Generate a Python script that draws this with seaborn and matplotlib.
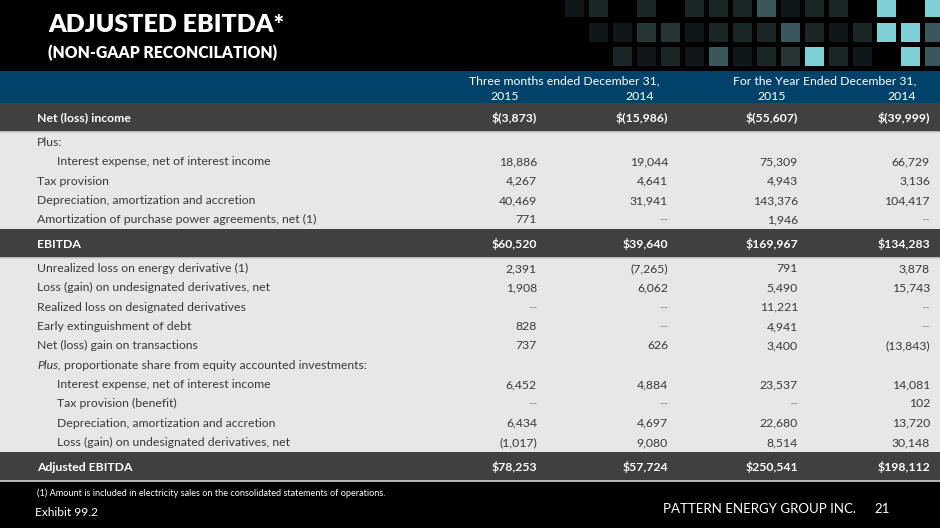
import pandas as pd
import seaborn as sns
import matplotlib.pyplot as plt
from matplotlib.patches import Rectangle

# table content
row_labels = [
    "Net (loss) income",
    "Plus:",
    "Interest expense, net of interest income",
    "Tax provision",
    "Depreciation, amortization and accretion",
    "Amortization of purchase power agreements, net (1)",
    "EBITDA",
    "Unrealized loss on energy derivative (1)",
    "Loss (gain) on undesignated derivatives, net",
    "Realized loss on designated derivatives",
    "Early extinguishment of debt",
    "Net (loss) gain on transactions",
    "proportionate share from equity accounted investments:",
    "Interest expense, net of interest income",
    "Tax provision (benefit)",
    "Depreciation, amortization and accretion",
    "Loss (gain) on undesignated derivatives, net",
    "Adjusted EBITDA",
]
row_kind = ["total", "plain", "indent", "plain", "plain", "plain", "total",
            "plain", "plain", "plain", "plain", "plain", "italic_plus",
            "indent", "indent", "indent", "indent", "total"]

q4_2015 = ["$(3,873)", "", "18,886", "4,267", "40,469", "771", "$60,520",
           "2,391", "1,908", "--", "828", "737", "",
           "6,452", "--", "6,434", "(1,017)", "$78,253"]
q4_2014 = ["$(15,986)", "", "19,044", "4,641", "31,941", "--", "$39,640",
           "(7,265)", "6,062", "--", "--", "626", "",
           "4,884", "--", "4,697", "9,080", "$57,724"]
fy_2015 = ["$(55,607)", "", "75,309", "4,943", "143,376", "1,946", "$169,967",
           "791", "5,490", "11,221", "4,941", "3,400", "",
           "23,537", "--", "22,680", "8,514", "$250,541"]
fy_2014 = ["$(39,999)", "", "66,729", "3,136", "104,417", "--", "$134,283",
           "3,878", "15,743", "--", "--", "(13,843)", "",
           "14,081", "102", "13,720", "30,148", "$198,112"]

period_headers = ["Three months ended December 31,", "For the Year Ended December 31,"]
year_headers = ["2015", "2014", "2015", "2014"]

table = pd.DataFrame({"label": row_labels, "kind": row_kind,
                      "q4_2015": q4_2015, "q4_2014": q4_2014,
                      "fy_2015": fy_2015, "fy_2014": fy_2014})
value_cols = ["q4_2015", "q4_2014", "fy_2015", "fy_2014"]

sns.set_theme(style="white")
plt.rcParams['font.family'] = ['Lato', 'DejaVu Sans']

BLUE = "#00426a"
DARK = "#404040"
LIGHT = "#e6e7e9"
TEXT = "#3a3a3a"
BODY_SIZE = 8.8

fig = plt.figure(figsize=(9.4, 5.28), dpi=100, facecolor="black")
ax = fig.add_axes([0, 0, 1, 1])
ax.set_xlim(0, 940)
ax.set_ylim(528, 0)
ax.set_facecolor("black")
ax.axis("off")

# decorative tiles top right
tile_colors = {"a": "#101718", "b": "#1b2627", "c": "#263637", "d": "#3a585b", "e": "#7fd0d6"}
tile_rows = ["ab.b.bbbdabb.e.e",
             ".aaccabbbdbabeed",
             "..babadabceba.ed"]
for r, pattern in enumerate(tile_rows):
    y0 = -2 + r * 24.5
    for k, ch in enumerate(pattern):
        if ch == ".":
            continue
        ax.add_patch(Rectangle((565 + k * 24, y0), 18.5, 19, color=tile_colors[ch], lw=0))

ax.text(48, 25, "ADJUSTED EBITDA*", color="white", fontsize=18, fontweight="heavy", va="center")
ax.text(48, 52.5, "(NON-GAAP RECONCILATION)", color="white", fontsize=11.3, fontweight="heavy", va="center")

# header band
ax.add_patch(Rectangle((0, 70.5), 940, 32.5, color=BLUE, lw=0))
ax.text(564, 81, period_headers[0], color="white", fontsize=8.8, ha="center", va="center")
ax.text(825, 81, period_headers[1], color="white", fontsize=8.8, ha="center", va="center")
year_x = [505, 654, 772, 916]
year_ha = ["center", "right", "center", "right"]
for x, yr, ha in zip(year_x, year_headers, year_ha):
    ax.text(x, 96.5, yr, color="white", fontsize=8.8, ha=ha, va="center")

# body rows
col_right = [537, 668, 798, 930]
dark_h, light_h = 29.3, 19.35
y = 103.0
renderer = fig.canvas.get_renderer()
for _, row in table.iterrows():
    total = row["kind"] == "total"
    h = dark_h if total else light_h
    ax.add_patch(Rectangle((0, y), 940, h, color=DARK if total else LIGHT, lw=0))
    yc = y + h / 2 + 0.5
    color = "white" if total else TEXT
    weight = "bold" if total else "normal"
    x_lab = 57 if row["kind"] == "indent" else 37
    if row["kind"] == "italic_plus":
        t = ax.text(x_lab, yc, "Plus,", color=color, fontsize=BODY_SIZE, style="italic", va="center")
        bb = t.get_window_extent(renderer)
        x_end = ax.transData.inverted().transform((bb.x1, bb.y0))[0]
        ax.text(x_end + 3, yc, row["label"], color=color, fontsize=BODY_SIZE, va="center")
    else:
        ax.text(x_lab, yc, row["label"], color=color, fontsize=BODY_SIZE, fontweight=weight, va="center")
    for xr, col in zip(col_right, value_cols):
        val = row[col]
        c = "#8a8a8a" if val == "--" else color
        ax.text(xr, yc, val, color=c, fontsize=BODY_SIZE, fontweight=weight, ha="right", va="center")
    if total:
        ax.plot([0, 940], [y + h, y + h], color="#d0d0d0", lw=1.2)
    y += h

# footer
ax.text(37, 493, "(1) Amount is included in electricity sales on the consolidated statements of operations.",
        color="white", fontsize=6.6, va="center")
ax.text(35, 512, "Exhibit 99.2", color="white", fontsize=8.6, va="center")
ax.text(856, 509, "PATTERN ENERGY GROUP INC.", color="white", fontsize=9.5, ha="right", va="center")
ax.text(890, 509, "21", color="white", fontsize=9.5, ha="right", va="center")

fig.savefig("out.png", dpi=100, facecolor="black")
